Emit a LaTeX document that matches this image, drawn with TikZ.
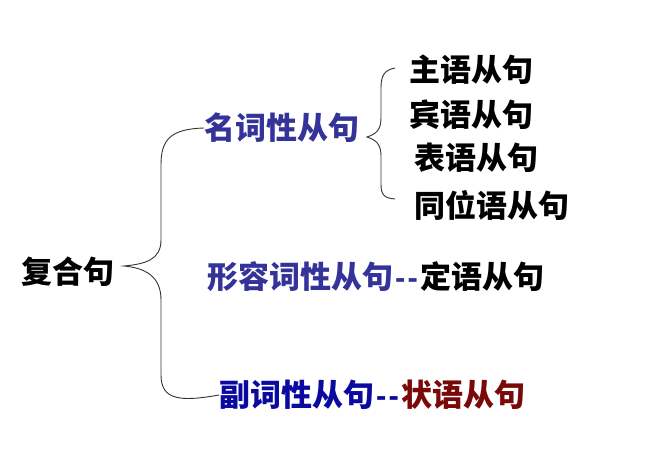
\documentclass[tikz,border=0pt]{standalone}
\usepackage{fontspec}
\newfontfamily\cjk{Noto Sans CJK SC}[BoldFont={Noto Sans CJK SC Black}]
\newfontfamily\lat{Liberation Sans}
\definecolor{nblue}{HTML}{333399}
\definecolor{dblue}{HTML}{0A0AA0}
\definecolor{dred}{HTML}{7A0A0A}
\newcommand{\ddash}{{\lat\bfseries\kern2pt-\kern2pt-\kern3pt}}
\begin{document}
\begin{tikzpicture}[x=1pt,y=-1pt,
  lbl/.style={inner sep=0pt,anchor=west,font=\cjk\bfseries\fontsize{31}{32}\selectfont},
  brace/.style={draw=black!80,line width=0.9pt}]
\useasboundingbox[fill=white] (0,0) rectangle (667,450);
\node[lbl] (root) at (21,272) {复合句};
\node[lbl,text=nblue] (noun) at (204,128) {名词性从句};
\node[lbl] (s1) at (409,70) {主语从句};
\node[lbl] (s2) at (409,115) {宾语从句};
\node[lbl] (s3) at (414,158) {表语从句};
\node[lbl] (s4) at (414,205) {同位语从句};
\node[lbl] (adj) at (207,277) {\textcolor{nblue}{形容词性从句\ddash}定语从句};
\node[lbl] (adv) at (219,395) {\textcolor{dblue}{副词性从句\ddash}\textcolor{dred}{状语从句}};
% big brace
\coordinate (t1) at (124,266);
\draw[brace] (noun.west) .. controls (170,129) and (161,140) .. (161,165)
  -- (161,240) .. controls (161,260) and (145,264) .. (t1)
  .. controls (145,268) and (161,276) .. (161,300)
  -- (161,375) .. controls (161,400) and (180,402) .. (adv.west);
% small brace
\coordinate (t2) at (367,137);
\coordinate (e1) at (395,68);
\coordinate (e2) at (395,199);
\draw[brace] (e1) .. controls (384,70) and (381,76) .. (381,88)
  -- (381,118) .. controls (381,130) and (376,134) .. (t2)
  .. controls (376,140) and (381,144) .. (381,156)
  -- (381,184) .. controls (381,195) and (384,198) .. (e2);
\end{tikzpicture}
\end{document}
